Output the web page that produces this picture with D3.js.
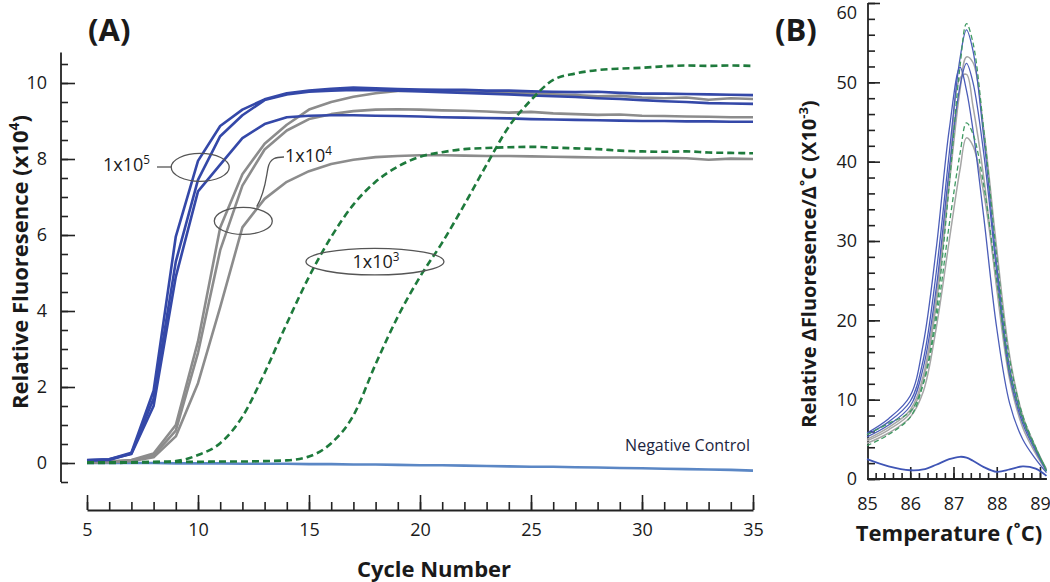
<!DOCTYPE html>
<html><head><meta charset="utf-8">
<script src="https://cdn.jsdelivr.net/npm/d3@7"></script>
<style>
body{margin:0;background:#fff}
svg{display:block}
text{font-family:"Open Sans",sans-serif;fill:#1a1a1a}
</style>
</head><body>
<svg id="c" width="1050" height="582"></svg>
<script>
// ---------------- Panel A data (amplification curves) ----------------
const cycles = [5,6,7,8,9,10,11,12,13,14,15,16,17,18,19,20,21,22,23,24,25,26,27,28,29,30,31,32,33,34,35];
const blue1 = [0.08,0.10,0.27,1.90,5.96,7.95,8.87,9.30,9.57,9.73,9.80,9.85,9.88,9.86,9.84,9.83,9.82,9.82,9.80,9.80,9.78,9.77,9.76,9.77,9.74,9.72,9.72,9.71,9.70,9.69,9.68];
const blue2 = [0.06,0.08,0.25,1.70,5.30,7.45,8.60,9.15,9.55,9.70,9.77,9.80,9.82,9.81,9.80,9.78,9.76,9.74,9.72,9.70,9.67,9.65,9.63,9.60,9.58,9.55,9.52,9.50,9.47,9.46,9.45];
const blue3 = [0.07,0.10,0.24,1.50,4.90,7.15,7.85,8.55,8.92,9.10,9.14,9.15,9.15,9.14,9.13,9.12,9.10,9.09,9.08,9.07,9.05,9.04,9.03,9.02,9.01,9.00,9.00,8.99,8.99,8.98,8.98];
const grey1 = [0.02,0.04,0.08,0.25,1.00,3.20,6.20,7.60,8.40,8.90,9.30,9.50,9.64,9.73,9.79,9.80,9.80,9.78,9.76,9.74,9.72,9.70,9.68,9.65,9.66,9.62,9.60,9.62,9.56,9.60,9.58];
const grey2 = [0.02,0.03,0.07,0.20,0.85,2.90,5.60,7.30,8.25,8.75,9.05,9.18,9.26,9.30,9.31,9.30,9.28,9.27,9.25,9.22,9.24,9.20,9.18,9.16,9.17,9.14,9.13,9.12,9.11,9.10,9.10];
const grey3 = [0.01,0.02,0.05,0.15,0.70,2.10,4.10,6.20,6.95,7.40,7.68,7.87,7.98,8.05,8.08,8.10,8.10,8.09,8.08,8.08,8.07,8.06,8.05,8.04,8.04,8.03,8.03,8.02,7.98,8.01,8.00];
const green1 = [0.00,0.00,0.01,0.02,0.05,0.21,0.52,1.22,2.37,3.67,4.90,5.95,6.80,7.40,7.80,8.06,8.18,8.26,8.29,8.31,8.32,8.30,8.28,8.26,8.22,8.20,8.19,8.20,8.17,8.16,8.15];
const green2 = [0.02,0.02,0.02,0.03,0.03,0.03,0.04,0.04,0.05,0.07,0.17,0.52,1.25,2.60,3.85,4.90,5.80,6.80,7.85,8.85,9.55,10.08,10.25,10.34,10.38,10.40,10.44,10.46,10.45,10.46,10.45];
const negA = [0.00,0.00,0.00,0.00,-0.01,-0.01,-0.01,-0.02,-0.02,-0.02,-0.03,-0.03,-0.04,-0.04,-0.05,-0.06,-0.06,-0.07,-0.08,-0.09,-0.10,-0.10,-0.11,-0.12,-0.13,-0.14,-0.15,-0.16,-0.17,-0.18,-0.20];
const yTicksA = [0,2,4,6,8,10];
const xTicksA = [5,10,15,20,25,30,35];

// ---------------- Panel B data (melt curves) ----------------
const temps = [85,85.5,86,86.3,86.6,86.9,87.15,87.3,87.45,87.7,88.0,88.3,88.6,88.9,89.15];
const mGreen1 = [4.2,5.6,7.8,12,21,37,52,57.4,55,44,28,15,8,4,1.0];
const mBlue1  = [5.6,7.2,9.8,15,26,41,53,56.6,54,43,27,14,7.5,3.8,1.0];
const mGrey1  = [4.8,6.2,8.3,12.5,22,37,49,53.2,52.5,44,29,15.5,8,4,1.2];
const mBlue2  = [5.3,6.8,9.2,14,24,39,49.5,52.4,50,41,26,13,7,3.5,1.0];
const mBlue3  = [5.8,7.6,10.5,17,29,44,51.9,49,44,33,19,9.5,5,2.5,0.8];
const mGrey2  = [5.0,6.5,8.7,13,23,38,50.5,51,47,38,24,12.5,6.5,3.2,1.0];
const mGreen2 = [5.6,7.0,8.5,12,20,32,41,44.9,43.5,37,25,13.5,7.5,3.8,1.2];
const mGrey3  = [4.5,5.8,7.8,11,19,30,39,43.0,42,36,24.5,13.5,7.5,3.8,1.2];
const mNeg    = [2.5,1.6,1.1,1.2,1.8,2.5,2.8,2.7,2.3,1.5,0.9,1.2,1.6,1.3,0.4];
const yTicksB = [0,10,20,30,40,50,60];
const xTicksB = [85,86,87,88,89];

const BLUE="#3448a8", GREY="#8c8c8c", GREEN="#1e7a3c", NEG="#5b87c5";
const svg = d3.select("#c");

// ---------- Panel A ----------
const xA = d3.scaleLinear().domain([5,35]).range([87,753]);
const yA = d3.scaleLinear().domain([0,10]).range([463,83]);

const gyA = svg.append("g").attr("transform",`translate(61,0)`);
gyA.append("line").attr("x1",0).attr("x2",0).attr("y1",yA(10.8)).attr("y2",yA(-0.5)).attr("stroke","#222").attr("stroke-width",1.8);
gyA.call(d3.axisLeft(yA).tickValues(d3.range(-0.5,10.51,0.5)).tickSizeInner(-7).tickSizeOuter(0).tickFormat(""));
gyA.call(g=>g.select(".domain").remove());
const gyA2 = svg.append("g").attr("transform",`translate(61,0)`);
gyA2.call(d3.axisLeft(yA).tickValues(yTicksA).tickSizeInner(-14).tickSizeOuter(0).tickPadding(14).tickFormat(d3.format("d")));
gyA2.select(".domain").remove();
const gxA = svg.append("g").attr("transform",`translate(0,510)`);
gxA.call(d3.axisBottom(xA).tickValues(cycles).tickSizeInner(-8).tickSizeOuter(0).tickFormat(""));
const gxA2 = svg.append("g").attr("transform",`translate(0,510)`);
gxA2.call(d3.axisBottom(xA).tickValues(xTicksA).tickSizeInner(-15).tickSizeOuter(0).tickPadding(13).tickFormat(d3.format("d")));
[gyA,gyA2,gxA,gxA2].forEach(g=>{
  g.selectAll(".domain").attr("stroke","#222").attr("stroke-width",1.8);
  g.selectAll(".tick line").attr("stroke","#222").attr("stroke-width",1.6);
  g.selectAll("text").attr("font-family","Open Sans").attr("font-size",18).attr("fill","#1a1a1a");
});
gxA2.select(".domain").remove();

const lineA = d3.line().x((d,i)=>xA(cycles[i])).y(d=>yA(d));
const lineAS = d3.line().x((d,i)=>xA(cycles[i])).y(d=>yA(d)).curve(d3.curveMonotoneX);
const gA = svg.append("g").attr("fill","none").attr("stroke-linejoin","round");
gA.append("path").attr("d",lineA(negA)).attr("stroke",NEG).attr("stroke-width",2.6);
[grey3,grey2,grey1].forEach(s=>gA.append("path").attr("d",lineA(s)).attr("stroke",GREY).attr("stroke-width",2.6));
[blue3,blue2,blue1].forEach(s=>gA.append("path").attr("d",lineA(s)).attr("stroke",BLUE).attr("stroke-width",2.6));
[green1,green2].forEach(s=>gA.append("path").attr("d",lineAS(s)).attr("stroke",GREEN).attr("stroke-width",2.6).attr("stroke-dasharray","7,4"));

const ann = svg.append("g").attr("fill","none").attr("stroke","#555").attr("stroke-width",1.3);
ann.append("ellipse").attr("cx",xA(10.1)).attr("cy",yA(7.78)).attr("rx",29).attr("ry",14);
ann.append("ellipse").attr("cx",xA(12.04)).attr("cy",yA(6.37)).attr("rx",29).attr("ry",13.5);
ann.append("ellipse").attr("cx",xA(17.97)).attr("cy",yA(5.3)).attr("rx",69).attr("ry",13.3);
ann.append("line").attr("x1",157).attr("x2",171).attr("y1",167).attr("y2",167);
ann.append("path").attr("d","M256.7,206.7 C265,193 266,178 268,168 S276,157 284,157");

function sup(x,y,base,exp,anchor,size){
  const t = svg.append("text").attr("x",x).attr("y",y).attr("text-anchor",anchor).attr("font-size",size);
  t.append("tspan").text(base);
  t.append("tspan").text(exp).attr("font-size",size*0.65).attr("dy",-size*0.4);
  return t;
}
sup(150,171,"1x10","5","end",18);
sup(285,162,"1x10","4","start",18);
sup(376,268,"1x10","3","middle",18);
svg.append("text").attr("x",750).attr("y",451).attr("text-anchor","end").attr("font-size",16).style("fill","#1c2540").text("Negative Control");

svg.append("text").attr("x",434).attr("y",577).attr("text-anchor","middle").attr("font-size",22).attr("font-weight","bold").text("Cycle Number");
{
  const t = svg.append("text").attr("transform","translate(28,262) rotate(-90)").attr("text-anchor","middle").attr("font-size",22).attr("font-weight","bold");
  t.append("tspan").text("Relative Fluoresence (x10");
  t.append("tspan").text("4").attr("font-size",14).attr("dy",-9);
  t.append("tspan").text(")").attr("dy",9);
}
svg.append("text").attr("x",88).attr("y",41).attr("font-size",31).attr("font-weight","bold").text("(A)");

// ---------- Panel B ----------
const xB = d3.scaleLinear().domain([85,89]).range([867,1040]);
const yB = d3.scaleLinear().domain([0,60]).range([479,3]);
const gyB = svg.append("g").attr("transform","translate(868,0)");
gyB.append("line").attr("x1",0).attr("x2",0).attr("y1",yB(60)).attr("y2",yB(0)).attr("stroke","#222").attr("stroke-width",1.8);
gyB.call(d3.axisLeft(yB).tickValues(d3.range(0,60.1,2)).tickSizeInner(-7).tickSizeOuter(0).tickFormat(""));
const gyB2 = svg.append("g").attr("transform","translate(868,0)");
gyB2.call(d3.axisLeft(yB).tickValues(yTicksB).tickSizeInner(-12).tickSizeOuter(0).tickPadding(11).tickFormat(d3.format("d")));
const gxB = svg.append("g").attr("transform","translate(0,479)");
gxB.append("line").attr("x1",xB(85)).attr("x2",xB(89.16)).attr("y1",0).attr("y2",0).attr("stroke","#222").attr("stroke-width",1.8);
gxB.call(d3.axisBottom(xB).tickValues(d3.range(85.2,89.1,0.2)).tickSizeInner(-6).tickSizeOuter(0).tickFormat(""));
const gxB2 = svg.append("g").attr("transform","translate(0,479)");
gxB2.call(d3.axisBottom(xB).tickValues(xTicksB).tickSizeInner(-12).tickSizeOuter(0).tickPadding(18).tickFormat(d3.format("d")));
[gyB,gyB2,gxB,gxB2].forEach(g=>{
  g.selectAll(".domain").remove();
  g.selectAll(".tick line").attr("stroke","#222").attr("stroke-width",1.6);
  g.selectAll("text").attr("font-family","Open Sans").attr("font-size",18).attr("fill","#1a1a1a");
});
gxB2.selectAll(".tick").filter(d=>d===85).select("line").remove();
gyB2.selectAll(".tick").filter(d=>d===60).select("text").attr("dy","0.88em");

const lineB = d3.line().x((d,i)=>xB(temps[i])).y(d=>yB(d)).curve(d3.curveCatmullRom.alpha(0.5));
const gB = svg.append("g").attr("fill","none");
[mGrey3,mGrey2,mGrey1].forEach(s=>gB.append("path").attr("d",lineB(s)).attr("stroke","#a6a6a6").attr("stroke-width",1.5));
[mBlue3,mBlue2,mBlue1].forEach(s=>gB.append("path").attr("d",lineB(s)).attr("stroke","#4b5db8").attr("stroke-width",1.3));
[mGreen2,mGreen1].forEach(s=>gB.append("path").attr("d",lineB(s)).attr("stroke","#3f9a62").attr("stroke-width",1.3).attr("stroke-dasharray","5,3"));
gB.append("path").attr("d",lineB(mNeg)).attr("stroke","#3f55b5").attr("stroke-width",1.8);

svg.append("text").attr("x",949).attr("y",541).attr("text-anchor","middle").attr("font-size",22).attr("font-weight","bold").text("Temperature (˚C)");
{
  const t = svg.append("text").attr("transform","translate(816,264) rotate(-90)").attr("text-anchor","middle").attr("font-size",20).attr("font-weight","bold");
  t.append("tspan").text("Relative ΔFluoresence/Δ˚C (X10");
  t.append("tspan").text("-3").attr("font-size",13).attr("dy",-8);
  t.append("tspan").text(")").attr("dy",8);
}
svg.append("text").attr("x",775).attr("y",41).attr("font-size",31).attr("font-weight","bold").text("(B)");
</script>
</body></html>
